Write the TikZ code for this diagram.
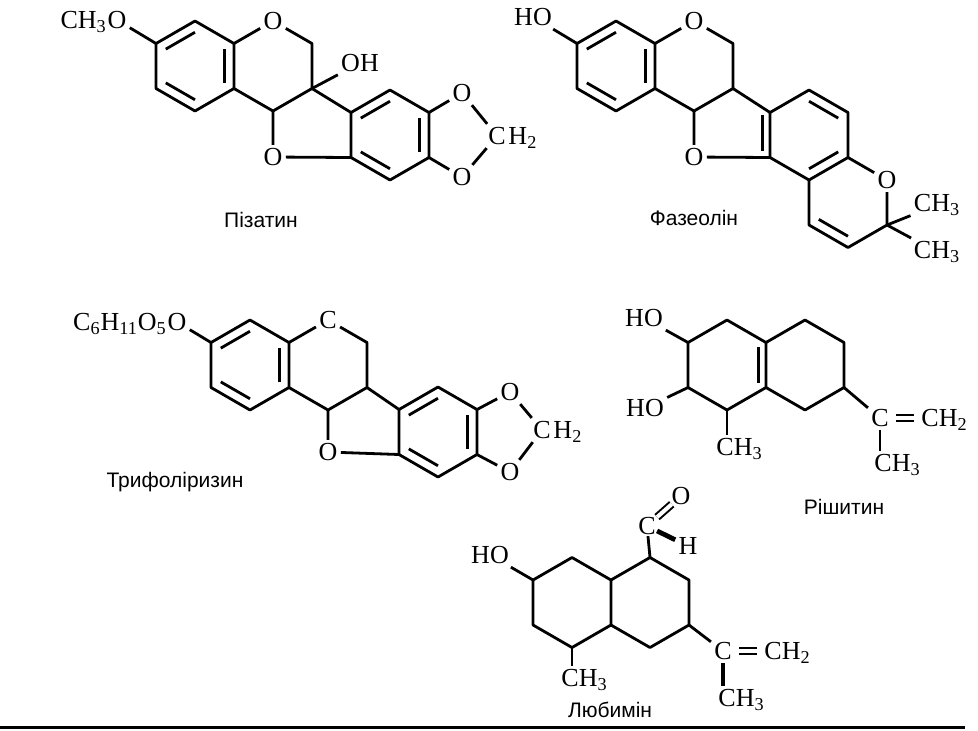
\documentclass[tikz,border=0pt]{standalone}
\usepackage{fontspec}
\setmainfont{Liberation Serif}
\newfontfamily\namefont{Liberation Sans}
\usetikzlibrary{calc,positioning}

% ring corners: #1 = prefix, centre at (#2,#3)
\newcommand{\hexat}[3]{%
  \coordinate (#1c) at (#2,#3);
  \foreach \k/\ang in {1/-90,2/-30,3/30,4/90,5/150,6/210}
    \coordinate (#1\k) at ($(#1c)+(\ang:45)$);
}
% second line of a double bond, pulled towards the ring centre #4
\newcommand{\inbond}[4][0.25]{\draw ($(#2)!#1!(#4)$) -- ($(#3)!#1!(#4)$);}

\begin{document}
\begin{tikzpicture}[x=0.5pt, y=-0.5pt, line width=1.4pt, line join=round,
    atom/.style={font=\fontsize{13}{15}\selectfont, inner sep=1pt},
    tail/.style={atom, anchor=base west, inner sep=0pt},
    molname/.style={font=\namefont\fontsize{10.5}{12}\selectfont},
    dbl/.style={double, double distance=2pt, line width=1pt, shorten <=2pt, shorten >=2pt}]
    \useasboundingbox (0,0) rectangle (978,730);

    % Pisatin
    \hexat{pa}{195}{66}
    \hexat{pb}{273}{66}
    \hexat{pd}{390}{135}
    \node[atom] (pome) at (117,20) {O};
    \node[atom, anchor=base east, inner sep=0pt] (pme) at ([xshift=2pt]pome.base west) {CH\textsubscript{3}};
    \node[atom] (po1) at (pb1) {O};
    \node[atom] (po2) at (273,157) {O};
    \node[atom] (po3) at (462,93) {O};
    \node[atom] (po4) at (462,177) {O};
    \node[atom] (poh) at (360,63) {OH};
    \node[atom] (pc) at (497,136) {C};
    \node[tail] (ph2) at ([xshift=-1pt]pc.base east) {H\textsubscript{2}};
    \draw (pa1) -- (pa2) -- (pa3) -- (pa4) -- (pa5) -- (pa6) -- cycle;
    \draw (pa2) -- (po1) -- (pb2) -- (pb3) -- (pb4) -- (pa3);
    \draw (pb4) -- (po2) -- (pd5);
    \draw (pb3) -- (pd6);
    \draw (pd1) -- (pd2) -- (pd3) -- (pd4) -- (pd5) -- (pd6) -- cycle;
    \draw (pd2) -- (po3) -- (pc);
    \draw (pd3) -- (po4) -- (pc);
    \draw (pome) -- (pa6);
    \draw (pb3) -- (poh);
    \inbond{pa6}{pa1}{pac} \inbond{pa2}{pa3}{pac} \inbond{pa4}{pa5}{pac}
    \inbond{pd6}{pd1}{pdc} \inbond{pd2}{pd3}{pdc} \inbond{pd4}{pd5}{pdc}
    \node[molname] (pname) at (261,220) {Пізатин};

    % Phaseollin
    \hexat{fa}{616}{66}
    \hexat{fb}{694}{66}
    \hexat{fd}{809}{135}
    \hexat{fe}{848}{202.5}
    \coordinate (f5c) at (732,125);
    \node[atom] (fho) at (533,17) {HO};
    \node[atom] (fo1) at (fb1) {O};
    \node[atom] (fo2) at (694,157) {O};
    \node[atom] (fo3) at (fe2) {O};
    \node[atom] (fme1) at (937,205) {CH\textsubscript{3}};
    \node[atom] (fme2) at (937,252) {CH\textsubscript{3}};
    \draw (fa1) -- (fa2) -- (fa3) -- (fa4) -- (fa5) -- (fa6) -- cycle;
    \draw (fa2) -- (fo1) -- (fb2) -- (fb3) -- (fb4) -- (fa3);
    \draw (fb4) -- (fo2) -- (fd5);
    \draw (fb3) -- (fd6);
    \draw (fd1) -- (fd2) -- (fd3) -- (fd4) -- (fd5) -- (fd6) -- cycle;
    \draw (fd3) -- (fo3) -- (fe3) -- (fe4) -- (fe5) -- (fd4);
    \draw (fe3) -- (fme1);
    \draw (fe3) -- (fme2);
    \draw (fho) -- (fa6);
    \inbond{fa6}{fa1}{fac} \inbond{fa2}{fa3}{fac} \inbond{fa4}{fa5}{fac}
    \inbond[0.2]{fd6}{fd5}{f5c} \inbond{fd1}{fd2}{fdc} \inbond{fd3}{fd4}{fdc}
    \inbond{fe4}{fe5}{fec}
    \node[molname] (fname) at (694,218) {Фазеолін};

    % Trifolirhizin
    \hexat{ta}{250}{365}
    \hexat{tb}{328}{365}
    \hexat{td}{438}{432}
    \node[atom] (tog) at (177,322) {O};
    \node[atom, anchor=base east, inner sep=0pt] (tglc) at ([xshift=2pt]tog.base west) {C\textsubscript{6}H\textsubscript{11}O\textsubscript{5}};
    \node[atom] (tc) at (tb1) {C};
    \node[atom] (to1) at (328,452) {O};
    \node[atom] (to2) at (510,392) {O};
    \node[atom] (to3) at (510,472) {O};
    \node[atom] (tc2) at (542,430) {C};
    \node[tail] (th2) at ([xshift=-1pt]tc2.base east) {H\textsubscript{2}};
    \draw (ta1) -- (ta2) -- (ta3) -- (ta4) -- (ta5) -- (ta6) -- cycle;
    \draw (ta2) -- (tc) -- (tb2) -- (tb3) -- (tb4) -- (ta3);
    \draw (tb4) -- (to1) -- (td5);
    \draw (tb3) -- (td6);
    \draw (td1) -- (td2) -- (td3) -- (td4) -- (td5) -- (td6) -- cycle;
    \draw (td2) -- (to2) -- (tc2);
    \draw (td3) -- (to3) -- (tc2);
    \draw (tog) -- (ta6);
    \inbond{ta6}{ta1}{tac} \inbond{ta2}{ta3}{tac} \inbond{ta4}{ta5}{tac}
    \inbond{td6}{td1}{tdc} \inbond{td2}{td3}{tdc} \inbond{td4}{td5}{tdc}
    \node[molname] (tname) at (175,482) {Трифоліризин};

    % Rishitin
    \hexat{rl}{727}{365}
    \hexat{rr}{805}{365}
    \node[atom] (rho1) at (644,318) {HO};
    \node[atom] (rho2) at (645,408) {HO};
    \node[atom, anchor=north west] (rme1) at (713,435) {CH\textsubscript{3}};
    \node[atom] (rc) at (880,418) {C};
    \node[atom, base right=13pt of rc] (rch2) {CH\textsubscript{2}};
    \node[atom, anchor=north west] (rme2) at (871,451) {CH\textsubscript{3}};
    \draw (rl1) -- (rl2) -- (rl3) -- (rl4) -- (rl5) -- (rl6) -- cycle;
    \draw (rl2) -- (rr1) -- (rr2) -- (rr3) -- (rr4) -- (rl3);
    \draw (rl6) -- (rho1);
    \draw (rl5) -- (rho2);
    \draw (rl4) -- (rl4 |- rme1.north);
    \draw (rr3) -- (rc);
    \draw[dbl] (rc.east) -- (rc.east -| rch2.west);
    \draw (rc) -- (rc |- rme2.north);
    \inbond[0.2]{rl2}{rl3}{rlc}
    \node[molname] (rname) at (844,507) {Рішитин};

    % Lubimin
    \hexat{ll}{572}{602.5}
    \hexat{lr}{650}{602.5}
    \node[atom] (lho) at (490,555) {HO};
    \node[atom, anchor=north west] (lme1) at (558,666) {CH\textsubscript{3}};
    \node[atom, inner sep=0pt] (lc1) at (647,526) {C};
    \node[atom, inner sep=0pt] (lo) at (681,496) {O};
    \node[atom] (lh) at (688,546) {H};
    \node[atom] (lc2) at (723,651) {C};
    \node[atom, base right=13pt of lc2] (lch2) {CH\textsubscript{2}};
    \node[atom, anchor=north west] (lme2) at (715,686) {CH\textsubscript{3}};
    \draw (ll1) -- (ll2) -- (ll3) -- (ll4) -- (ll5) -- (ll6) -- cycle;
    \draw (ll2) -- (lr1) -- (lr2) -- (lr3) -- (lr4) -- (ll3);
    \draw (ll6) -- (lho);
    \draw (ll4) -- (ll4 |- lme1.north);
    \draw (lr1) -- (lc1);
    \draw[dbl, shorten <=0pt, shorten >=-1pt] (lc1) -- (lo);
    \draw[line width=2.4pt] (lc1) -- (lh);
    \draw (lr3) -- (lc2);
    \draw[dbl] (lc2.east) -- (lc2.east -| lch2.west);
    \draw[line width=2pt] (lc2) -- (lc2 |- lme2.north);
    \node[molname] (lname) at (610,710) {Любимін};

    % bottom rule
    \coordinate (rulel) at (0,727);
    \coordinate (ruler) at (965,727);
    \draw[line width=1.5pt] (rulel) -- (ruler);
\end{tikzpicture}
\end{document}
